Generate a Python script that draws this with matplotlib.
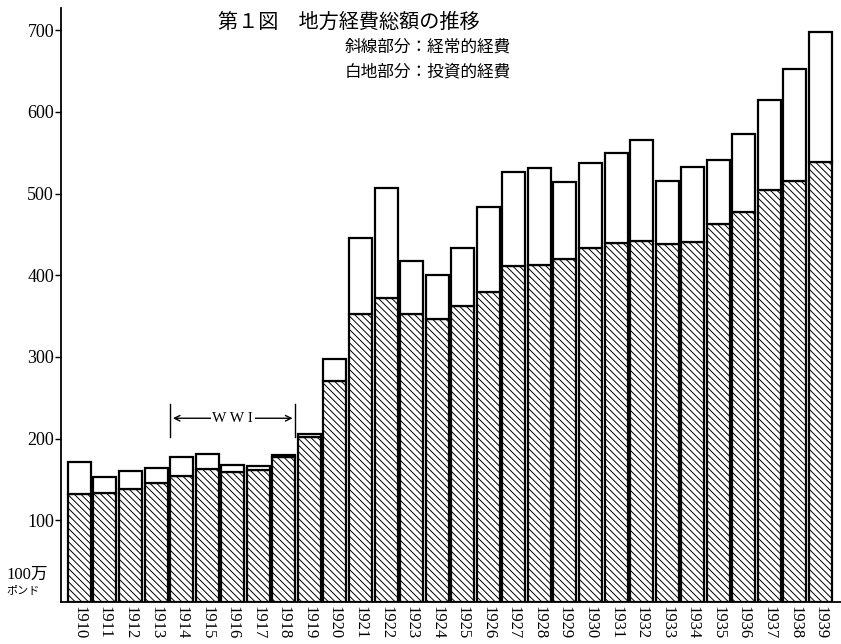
import matplotlib
matplotlib.use('Agg')
import matplotlib.pyplot as plt
import numpy as np

plt.rcParams['font.family'] = ['Liberation Serif', 'Noto Sans CJK JP', 'DejaVu Sans']
plt.rcParams['hatch.linewidth'] = 0.7

# data (100万ポンド)
years = [str(y) for y in range(1910, 1940)]
total = [171, 153, 160, 164, 177, 181, 168, 166, 180, 206,
         298, 445, 507, 418, 400, 433, 484, 526, 531, 514,
         537, 550, 565, 515, 532, 541, 573, 615, 652, 698]
ordinary = [132, 134, 138, 146, 154, 163, 159, 162, 178, 202,
            271, 352, 372, 352, 347, 362, 379, 411, 413, 420,
            433, 439, 442, 438, 441, 463, 477, 504, 515, 538]
capital = [t - o for t, o in zip(total, ordinary)]

title = '第１図　地方経費総額の推移'
legend_lines = ['斜線部分：経常的経費', '白地部分：投資的経費']
yticks = [100, 200, 300, 400, 500, 600, 700]

fig = plt.figure(figsize=(8.41, 6.44), dpi=100)
ax = fig.add_axes([0.0725, 0.065, 0.9275, 0.9226])

x = np.arange(len(years))
ax.bar(x, ordinary, width=0.9, color='white', edgecolor='black',
       linewidth=1.6, hatch='\\\\\\\\\\')
ax.bar(x, capital, bottom=ordinary, width=0.9, color='white',
       edgecolor='black', linewidth=1.6)

ax.set_xlim(-0.72, 29.8)
ax.set_ylim(0, 727)
ax.spines['top'].set_visible(False)
ax.spines['right'].set_visible(False)
ax.spines['left'].set_linewidth(1.3)
ax.spines['bottom'].set_linewidth(1.3)

ax.set_yticks(yticks)
ax.set_yticklabels([str(v) for v in yticks], fontsize=13)
ax.tick_params(axis='y', direction='out', length=4, width=1, pad=1)
ax.set_xticks(x)
ax.set_xticklabels(years, rotation=270, fontsize=12)
ax.tick_params(axis='x', length=0, pad=3)

# WWI marker
ax.annotate('', xy=(3.55, 225), xytext=(8.45, 225),
            arrowprops=dict(arrowstyle='<->', lw=1.0, color='black'))
ax.plot([3.55, 3.55], [202, 243], color='black', lw=1.0)
ax.plot([8.45, 8.45], [202, 243], color='black', lw=1.0)
ax.text(6.0, 225, 'W W I', ha='center', va='center', fontsize=11,
        bbox=dict(facecolor='white', edgecolor='none', pad=1))

fig.text(0.415, 0.966, title, ha='center', va='center', fontsize=14.5,
         family=['Noto Sans CJK JP', 'DejaVu Sans'])
fig.text(0.41, 0.927, legend_lines[0], ha='left', va='center', fontsize=12,
         family=['Noto Sans CJK JP', 'DejaVu Sans'])
fig.text(0.41, 0.889, legend_lines[1], ha='left', va='center', fontsize=12,
         family=['Noto Sans CJK JP', 'DejaVu Sans'])

fig.text(0.008, 0.108, '100万', ha='left', va='center', fontsize=12,
         family=['Liberation Serif', 'Noto Sans CJK JP'])
fig.text(0.008, 0.083, 'ポンド', ha='left', va='center', fontsize=8,
         family=['Noto Sans CJK JP', 'DejaVu Sans'])

fig.savefig('out.png', dpi=100)
